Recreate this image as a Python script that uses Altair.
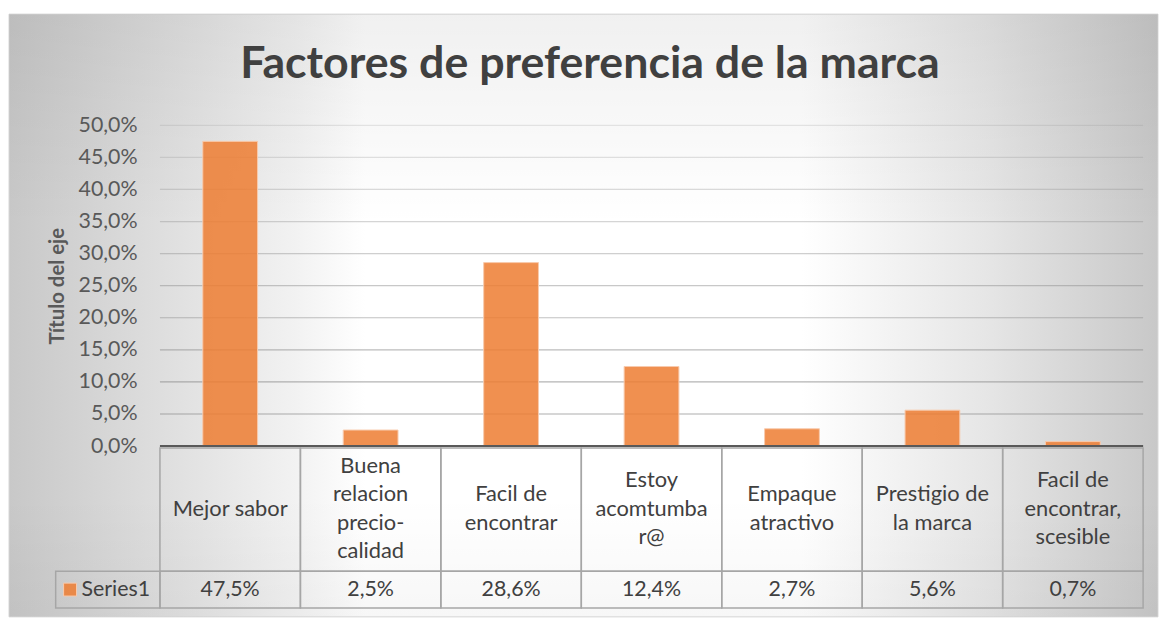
import altair as alt
import pandas as pd

# ---- data ----
categories = [
    "Mejor sabor",
    "Buena\nrelacion\nprecio-\ncalidad",
    "Facil de\nencontrar",
    "Estoy\nacomtumba\nr@",
    "Empaque\natractivo",
    "Prestigio de\nla marca",
    "Facil de\nencontrar,\nscesible",
]
values = [0.475, 0.025, 0.286, 0.124, 0.027, 0.056, 0.007]
y_ticks = [0.0, 0.05, 0.10, 0.15, 0.20, 0.25, 0.30, 0.35, 0.40, 0.45, 0.50]
series_name = ["Series1"]

bars_df = pd.DataFrame({"cat": categories, "value": values})
ticks_df = pd.DataFrame({"tick": y_ticks})
one_df = pd.DataFrame({"series": series_name})

FONT = "Lato"
W, H = 990, 323
ORANGE = "#ED7D31"
LINE_H = 28.5

yscale = alt.Scale(domain=[0, 0.5], nice=False, zero=True)
xscale = alt.Scale(paddingInner=0, paddingOuter=0)
yaxis = alt.Axis(
    values=y_ticks, tickCount=11,
    labelExpr="replace(format(datum.value, '.1%'), '.', ',')",
    labelOverlap=False,
    grid=False, domain=False, ticks=False,
    labelFont=FONT, labelFontSize=21.5, labelColor="#595959", labelPadding=23,
    title="Título del eje", titleFont=FONT, titleFontSize=20.5,
    titleFontWeight="bold", titleColor="#595959", titlePadding=11,
    zindex=1,
)

h_gradient = {
    "gradient": "linear",
    "x1": 0, "y1": 0.5, "x2": 1, "y2": 0.5,
    "stops": [
        {"offset": 0.0, "color": "#c8c8c8"},
        {"offset": 0.12, "color": "#dcdcdc"},
        {"offset": 0.25, "color": "#f2f2f2"},
        {"offset": 0.31, "color": "#ffffff"},
        {"offset": 0.69, "color": "#ffffff"},
        {"offset": 0.85, "color": "#e6e6e6"},
        {"offset": 1.0, "color": "#c8c8c8"},
    ],
}
v_overlay = {
    "gradient": "linear",
    "x1": 0.5, "y1": 0, "x2": 0.5, "y2": 1,
    "stops": [
        {"offset": 0.0, "color": "rgba(0,0,0,0.06)"},
        {"offset": 0.35, "color": "rgba(0,0,0,0.0)"},
        {"offset": 0.8, "color": "rgba(0,0,0,0.0)"},
        {"offset": 1.0, "color": "rgba(0,0,0,0.03)"},
    ],
}

bg = alt.Chart(one_df).mark_rect(fill=h_gradient, stroke="#d9d9d9", strokeWidth=1).encode(
    x=alt.value(-152), x2=alt.value(1005), y=alt.value(-112), y2=alt.value(495)
)
bg2 = alt.Chart(one_df).mark_rect(fill=v_overlay).encode(
    x=alt.value(-152), x2=alt.value(1005), y=alt.value(-112), y2=alt.value(495)
)

grid = alt.Chart(ticks_df).mark_rule(stroke="#8c8c8c", strokeWidth=1.2).encode(
    y=alt.Y("tick:Q", scale=yscale, axis=yaxis),
    x=alt.value(0), x2=alt.value(W),
    strokeOpacity=alt.StrokeOpacity("tick:Q", scale=alt.Scale(domain=[0, 0.5], range=[0.75, 0.2]), legend=None),
)

bars = alt.Chart(bars_df).mark_bar(
    width={"band": 0.39}, fill=ORANGE, fillOpacity=0.85, stroke="#F8CBAD", strokeWidth=1
).encode(
    x=alt.X("cat:N", sort=categories, scale=xscale, axis=None),
    y=alt.Y("value:Q", scale=yscale, axis=yaxis),
)

zero = alt.Chart(one_df).mark_rule(color="#595959", strokeWidth=2).encode(
    y=alt.datum(0, scale=yscale), x=alt.value(0), x2=alt.value(W)
)

cell_style = dict(fill="#ffffff", fillOpacity=0, stroke="#a6a6a6", strokeWidth=1.5)
head_cells = alt.Chart(bars_df).mark_rect(**cell_style).encode(
    x=alt.X("cat:N", sort=categories, scale=xscale, axis=None),
    y=alt.value(325), y2=alt.value(449),
)
val_cells = alt.Chart(bars_df).mark_rect(**cell_style).encode(
    x=alt.X("cat:N", sort=categories, scale=xscale, axis=None),
    y=alt.value(449), y2=alt.value(486),
)
legend_cell = alt.Chart(one_df).mark_rect(**cell_style).encode(
    x=alt.value(-105), x2=alt.value(0), y=alt.value(449), y2=alt.value(486)
)

# multi-line category labels, vertically centred in the header cell
cat_text = alt.Chart(bars_df).transform_calculate(
    nlines="length(split(datum.cat, '\\n'))",
    ypos=f"386 - (datum.nlines - 1) * {LINE_H / 2}",
).mark_text(
    lineBreak="\n", lineHeight=LINE_H, font=FONT, fontSize=22, color="#404040", baseline="middle"
).encode(
    x=alt.X("cat:N", sort=categories, scale=xscale, axis=None),
    y=alt.Y("ypos:Q", scale=None, axis=None), text="cat:N",
)
val_text = alt.Chart(bars_df).transform_calculate(
    label="replace(format(datum.value, '.1%'), '.', ',')"
).mark_text(font=FONT, fontSize=21.5, color="#404040", baseline="middle").encode(
    x=alt.X("cat:N", sort=categories, scale=xscale, axis=None),
    y=alt.value(468), text="label:N",
)

legend_sq = alt.Chart(one_df).mark_rect(fill=ORANGE, fillOpacity=0.85, stroke="#F8CBAD", strokeWidth=1).encode(
    x=alt.value(-97), x2=alt.value(-84), y=alt.value(461), y2=alt.value(474)
)
legend_txt = alt.Chart(one_df).mark_text(
    font=FONT, fontSize=21.5, color="#404040", baseline="middle", align="left"
).encode(x=alt.value(-79), y=alt.value(468), text="series:N")

chart = alt.layer(
    bg, bg2, grid, bars, zero, head_cells, val_cells, legend_cell, cat_text, val_text, legend_sq, legend_txt
).resolve_scale(y="shared").properties(
    width=W, height=H,
    padding={"left": 0, "top": 3, "right": 0, "bottom": 0},
    title=alt.Title(
        "Factores de preferencia de la marca",
        font=FONT, fontSize=45, fontWeight="bold", color="#404040",
        anchor="middle", dx=-62, dy=140, offset=30, baseline="alphabetic",
    ),
).configure_view(stroke=None)

chart.save("out.html", embed_options={"renderer": "svg", "actions": False})
